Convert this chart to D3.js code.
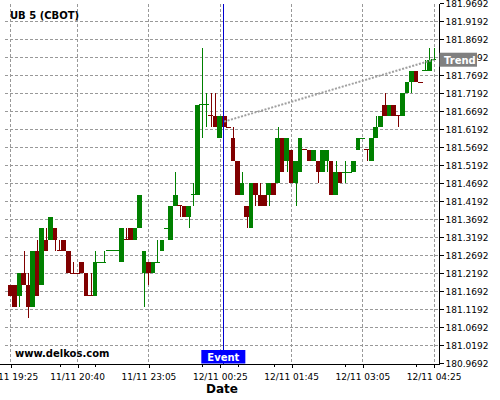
<!DOCTYPE html>
<html><head><meta charset="utf-8">
<script src="https://cdn.jsdelivr.net/npm/d3@7/dist/d3.min.js"></script>
<style>body{margin:0;background:#fff} svg{display:block}</style>
</head><body>
<svg id="c" width="500" height="400"></svg>
<script>
const title = "UB 5 (CBOT)";
const watermark = "www.delkos.com";
const xTitle = "Date";
const xTickIdx = [0, 15, 31, 47, 63, 79, 95];
const xTickLabels = ["11/11 19:25","11/11 20:40","11/11 23:05","12/11 00:25","12/11 01:45","12/11 03:05","12/11 04:25"];
const xMinorIdx = [11, 19, 43, 51, 59, 75, 91];
const yTickLabels = ["180.9692","181.0192","181.0692","181.1192","181.1692","181.2192","181.2692","181.3192","181.3692","181.4192","181.4692","181.5192","181.5692","181.6192","181.6692","181.7192","181.7692","181.8192","181.8692","181.9192","181.9692"];
// prices in 32nds above 181
const open32  = [6,6,5,7,6,4,9,6,10,10,11,9,10,9,7,7,8,7,5,5,8,8,9,9,9,8,10,11,10,11,7,8,7,8,9,11,10,13,13,13,12,14,14,22,22,21,21,19,21,20,19,17,14,13,11,15,14,14,14,15,15,19,17,18,15,16,18,18,17,17,16,17,17,14,16,16,16,16,18,19,18,17,19,20,22,21,22,21,21,23,24,25,24,25,25,26];
const high32  = [6,6,7,9,7,9,10,11,11,12,11,10,10,9,8,7,8,7,7,9,8,9,9,9,9,11,11,11,11,14,9,8,8,10,10,11,13,16,13,13,13,15,22,27,23,23,23,21,21,20,20,17,16,13,15,15,15,14,15,15,20,19,19,18,17,19,18,18,18,17,18,18,17,17,16,17,16,17,19,19,18,19,21,21,23,22,22,21,23,24,25,25,24,26,27,27];
const low32   = [5,4,4,6,3,4,5,6,9,10,9,9,9,7,7,7,7,5,5,5,8,8,9,9,9,8,10,10,10,11,4,6,7,8,9,11,10,13,12,12,11,13,14,19,20,20,20,19,20,20,17,14,14,11,11,13,13,13,13,14,15,16,16,15,13,16,18,17,17,15,16,16,14,14,15,15,16,16,18,19,17,17,19,20,21,21,21,20,21,23,23,24,24,25,25,26];
const close32 = [5,4,7,6,4,9,5,11,9,12,10,9,9,7,7,7,7,5,5,8,8,8,9,9,9,11,10,10,11,14,9,7,8,8,10,11,13,14,13,12,13,14,22,22,22,21,20,21,20,20,17,14,15,12,15,14,13,13,15,14,19,16,19,15,17,19,18,17,18,16,18,18,14,16,15,16,16,17,19,19,18,19,20,21,21,22,21,21,23,24,25,24,24,25,26,26];
const upDojis = [20,21,22,23,24,33,35,41,43,44,75,76,79,93,95];
const eventIdx = 47.8;
const eventLabel = "Event";
const trendIdx = [48, 95];
const trendVals = [181.640625, 181.8125];
const trendLabel = "Trend";

const P = k => 181 + k / 32;
const data = open32.map((o, i) => ({i, o: P(o), h: P(high32[i]), l: P(low32[i]), c: P(close32[i]),
  up: close32[i] > o || (close32[i] === o && upDojis.includes(i))}));

const GREEN = "#008000", RED = "#800000";
const svg = d3.select("#c");
const x = d3.scaleLinear().domain([0, 95]).range([10.3, 433.7]);
const y = d3.scaleLinear().domain([+yTickLabels[0], +yTickLabels[yTickLabels.length-1]]).range([363.3, 3.3]);
const axisX = 439.5, axisY = 364, plotTop = 4;

// grid
const gridG = svg.append("g");
yTickLabels.slice(1, -1).forEach(t => {
  const yy = Math.round(y(+t)) + 0.5;
  gridG.append("line").attr("x1", 5).attr("x2", axisX).attr("y1", yy).attr("y2", yy)
    .style("stroke", "#999999").style("stroke-width", "1px").style("stroke-dasharray", "3 2");
});
xTickIdx.forEach(t => {
  const xx = Math.round(x(t)) + 0.5;
  gridG.append("line").attr("x1", xx).attr("x2", xx).attr("y1", plotTop).attr("y2", axisY)
    .style("stroke", "#999999").style("stroke-width", "1px").style("stroke-dasharray", "3 2");
});

// candles
const cg = svg.append("g").attr("shape-rendering", "crispEdges");
data.forEach(d => {
  const col = d.up ? GREEN : RED;
  const cx = x(d.i);
  cg.append("line").attr("x1", Math.round(cx) + 0.5).attr("x2", Math.round(cx) + 0.5)
    .attr("y1", y(d.h)).attr("y2", y(d.l)).attr("stroke", col).attr("stroke-width", 1);
  if (d.o === d.c) {
    cg.append("line").attr("x1", cx - 2.5).attr("x2", cx + 2.5).attr("y1", y(d.o)).attr("y2", y(d.o))
      .attr("stroke", col).attr("stroke-width", 1);
  } else {
    const t = y(Math.max(d.o, d.c)), b = y(Math.min(d.o, d.c));
    cg.append("rect").attr("x", cx - 2.3).attr("width", 4.6).attr("y", t).attr("height", b - t).attr("fill", col);
  }
});

// trend line
svg.append("line").attr("x1", x(trendIdx[0])).attr("y1", y(trendVals[0]))
  .attr("x2", x(trendIdx[1])).attr("y2", y(trendVals[1]))
  .attr("stroke", "#a0a0a0").attr("stroke-width", 2).attr("stroke-dasharray", "2,1.5");

// event line
svg.append("line").attr("x1", Math.round(x(eventIdx)) + 0.5).attr("x2", Math.round(x(eventIdx)) + 0.5)
  .attr("y1", plotTop).attr("y2", axisY).attr("stroke", "#0000d0").attr("stroke-width", 1).attr("shape-rendering", "crispEdges");

// axes
const font = "DejaVu Sans, sans-serif";
const yAxis = d3.axisRight(y).tickValues(yTickLabels.map(Number)).tickFormat((v, i) => yTickLabels[i]).tickSize(4).tickPadding(2).tickSizeOuter(0);
const gy = svg.append("g").attr("transform", `translate(${axisX},0)`).call(yAxis);
gy.select(".domain").remove();
gy.selectAll("text").attr("font-family", font).attr("font-size", 9).attr("fill", "#000");
gy.selectAll("line").attr("shape-rendering", "crispEdges");

const xAxis = d3.axisBottom(x).tickValues(xTickIdx).tickFormat((v, i) => xTickLabels[i]).tickSize(4).tickPadding(6).tickSizeOuter(0);
const gx = svg.append("g").attr("transform", `translate(0,${axisY})`).call(xAxis);
gx.select(".domain").remove();
gx.selectAll("text").attr("font-family", font).attr("font-size", 9).attr("fill", "#000");
gx.selectAll(".tick line").attr("transform", "translate(0.5,0)").attr("shape-rendering", "crispEdges");
// minor ticks
const gm = svg.append("g").attr("transform", `translate(0,${axisY})`)
  .call(d3.axisBottom(x).tickValues(xMinorIdx).tickFormat("").tickSize(3).tickSizeOuter(0));
gm.select(".domain").remove();
gm.selectAll(".tick line").attr("transform", "translate(0.5,0)").attr("shape-rendering", "crispEdges");

svg.append("line").attr("x1", 0).attr("x2", axisX + 0.5).attr("y1", axisY + 0.5).attr("y2", axisY + 0.5).attr("stroke", "#000").attr("shape-rendering", "crispEdges");
svg.append("line").attr("x1", axisX).attr("x2", axisX).attr("y1", plotTop).attr("y2", axisY).attr("stroke", "#000").attr("shape-rendering", "crispEdges");

// labels
svg.append("text").attr("x", 10).attr("y", 19).attr("font-family", font).attr("font-weight", "bold").attr("font-size", 10).text(title);
svg.append("text").attr("x", 15).attr("y", 357).attr("font-family", font).attr("font-weight", "bold").attr("font-size", 10).text(watermark);
svg.append("text").attr("x", 222).attr("y", 393).attr("text-anchor", "middle").attr("font-family", font).attr("font-weight", "bold").attr("font-size", 12).text(xTitle);

// event badge
const ex = x(eventIdx);
svg.append("rect").attr("x", ex - 22).attr("y", 350).attr("width", 44).attr("height", 13.5).attr("fill", "#0000ff");
svg.append("text").attr("x", ex).attr("y", 360.5).attr("text-anchor", "middle").attr("fill", "#fff")
  .attr("font-family", font).attr("font-weight", "bold").attr("font-size", 10).text(eventLabel);

// trend badge
const ty = y(trendVals[1]);
svg.append("rect").attr("x", axisX).attr("y", ty - 7).attr("width", 37.5).attr("height", 14).attr("fill", "#808080");
svg.append("text").attr("x", axisX + 4.5).attr("y", ty + 3.8).attr("fill", "#fff")
  .attr("font-family", font).attr("font-weight", "bold").attr("font-size", 10).text(trendLabel);
</script>
</body></html>
